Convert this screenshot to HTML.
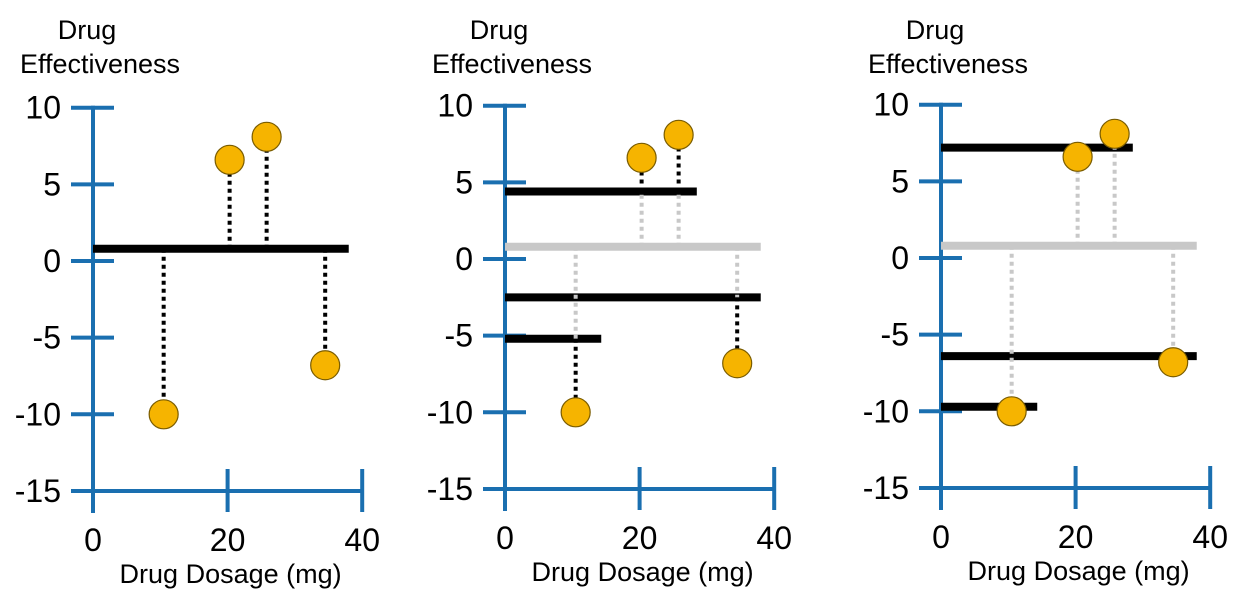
<!DOCTYPE html>
<html><head><meta charset="utf-8"><style>
body{margin:0;background:#fff;font-family:"Liberation Sans",sans-serif}
svg{display:block;font-family:"Liberation Sans",sans-serif}
</style></head><body>
<svg id="c" width="1247" height="601" xmlns="http://www.w3.org/2000/svg"></svg>
<script>
const pointX=[10.5,20.3,25.8,34.5];
const pointY=[-10,6.6,8.1,-6.8];
const meanY=0.8;
const yTicks=[10,5,0,-5,-10,-15];
const xTicks=[0,20,40];
const p2Lines=[4.4,-2.5,-5.2];
const p2LineEnd=[28.5,38,14.3];
const p2Group=[2,0,0,1];
const p3Lines=[7.2,-6.4,-9.7];
const p3LineEnd=[28.5,38,14.3];
const p3Group=[2,0,0,1];
const panels=[{ox:93,oy:261,mode:0},{ox:505,oy:259,mode:1,lines:p2Lines,ends:p2LineEnd,group:p2Group},{ox:941,oy:258,mode:1,lines:p3Lines,ends:p3LineEnd,group:p3Group}];
const NS="http://www.w3.org/2000/svg",svg=document.getElementById('c');
const BLUE="#1a6fb0";
function el(t,a,p){const e=document.createElementNS(NS,t);for(const k in a)e.setAttribute(k,a[k]);(p||svg).appendChild(e);return e;}
panels.forEach((P,pi)=>{
 const g=el('g',{});
 
 
 const sx=v=>P.ox+v*6.73, sy=v=>P.oy-v*15.33;
 const ya=el('line',{x1:P.ox,y1:sy(10)-2,x2:P.ox,y2:sy(-15)+22,stroke:BLUE,'stroke-width':4},g);
 
 const xa=el('line',{x1:P.ox-22,y1:sy(-15),x2:sx(40),y2:sy(-15),stroke:BLUE,'stroke-width':4},g);
 
 yTicks.forEach(v=>{
  const t=el('line',{x1:P.ox-22,x2:P.ox+21,y1:sy(v),y2:sy(v),stroke:BLUE,'stroke-width':4},g);
  
  const l=el('text',{x:P.ox-32,y:sy(v)+11,'text-anchor':'end','font-size':32,fill:'#000'},g);l.textContent=v;
  
 });
 xTicks.forEach(v=>{
  if(v>0){const t=el('line',{x1:sx(v),x2:sx(v),y1:sy(-15)-22,y2:sy(-15)+21,stroke:BLUE,'stroke-width':4},g);
  }
  const l=el('text',{x:sx(v),y:sy(-15)+60,'text-anchor':'middle','font-size':32},g);l.textContent=v;
  
 });
 const t1=el('text',{x:P.ox-6,y:39,'font-size':27,'text-anchor':'middle'},g);t1.textContent='Drug';
 const t2=el('text',{x:P.ox+7,y:73,'font-size':27,'text-anchor':'middle'},g);t2.textContent='Effectiveness';
 
 
 const xt=el('text',{x:sx(20)+3,y:sy(-15)+92,'font-size':27,'text-anchor':'middle'},g);xt.textContent='Drug Dosage (mg)';
 
 const mc=P.mode?'#c8c8c8':'#000';
 const ml=el('line',{x1:P.ox,x2:sx(38),y1:sy(meanY),y2:sy(meanY),stroke:mc,'stroke-width':8},g);
 
 if(P.mode){
  P.lines.forEach((v,i)=>{
   const b=el('line',{x1:P.ox,x2:sx(P.ends[i]),y1:sy(v),y2:sy(v),stroke:'#000','stroke-width':8},g);
   
  });
 }
 pointX.forEach((x,i)=>{
  const X=sx(x),Yp=sy(pointY[i]),Ym=sy(meanY);
  if(!P.mode){
   const d=el('line',{x1:X,x2:X,y1:Ym,y2:Yp,stroke:'#000','stroke-width':4,'stroke-dasharray':'4 4'},g);
   
  }else{
   const Yl=sy(P.lines[P.group[i]]);
   const d=el('line',{x1:X,x2:X,y1:Ym,y2:Yl,stroke:'#c8c8c8','stroke-width':4,'stroke-dasharray':'4 4'},g);
   
   const d2=el('line',{x1:X,x2:X,y1:Yl,y2:Yp,stroke:'#000','stroke-width':4,'stroke-dasharray':'4 4'},g);
   
  }
 });
 pointX.forEach((x,i)=>{
  const c=el('circle',{cx:sx(x),cy:sy(pointY[i]),r:14.5,fill:'#f6b400',stroke:'#7a5c00','stroke-width':1.2},g);
  
 });
});
</script>
</body></html>
